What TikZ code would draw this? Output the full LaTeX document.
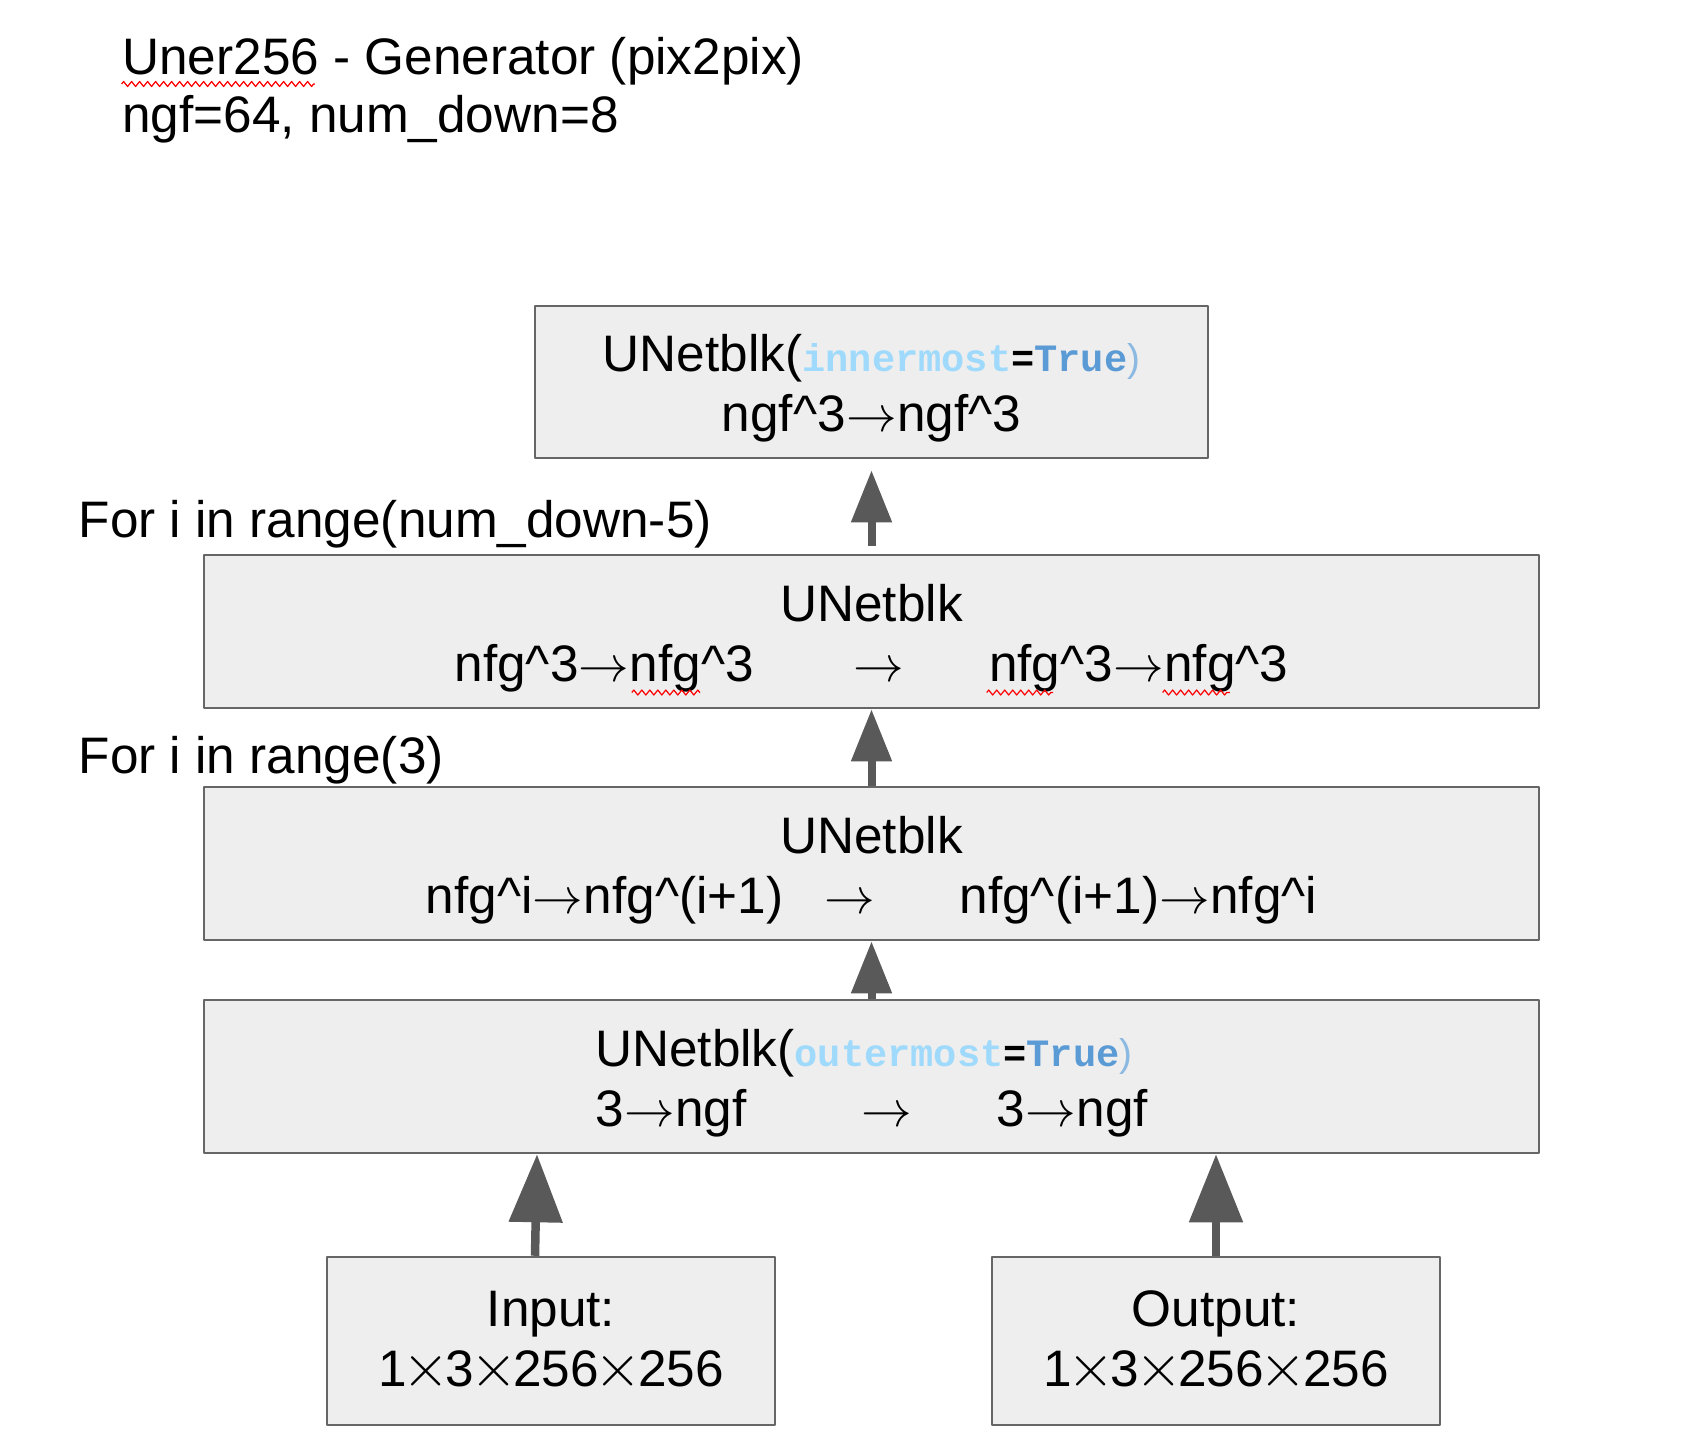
\documentclass[tikz,border=0pt]{standalone}
\usepackage{fontspec}
\setmainfont{Liberation Sans}
\setmonofont{Liberation Mono}
\usetikzlibrary{arrows.meta,decorations.pathmorphing}
\definecolor{boxfill}{HTML}{EEEEEE}
\definecolor{boxline}{HTML}{666666}
\definecolor{arrowgray}{HTML}{595959}
\definecolor{kwlight}{HTML}{9FDAFC}
\definecolor{kwdark}{HTML}{5B9BD5}
\newcommand\kwname[1]{{\ttfamily\bfseries\fontsize{11}{13}\selectfont\color{kwlight}#1}}
\newcommand\kwval[1]{{\ttfamily\bfseries\fontsize{11}{13}\selectfont\color{kwdark}#1}}
\newcommand\kweq{{\ttfamily\bfseries\fontsize{11}{13}\selectfont=}}
\newcommand\kwclose{{\color{kwdark!70}\fontsize{11}{13}\selectfont)}}
\newcommand\crt{\textasciicircum}
\newcommand\arr{\makebox[\fontcharwd\font`→][c]{$\rightarrow$}}
\newcommand\tms{\makebox[0.76em][c]{\scalebox{1.2}{$\times$}}}
\newcommand\tstrut{\rule{0pt}{5mm}}
\begin{document}
\begin{tikzpicture}[x=0.1mm, y=-0.1mm, line join=round, font=\fontsize{14.6}{17}\selectfont]
	\tikzset{blk/.style={draw=boxline, fill=boxfill, line width=0.25mm, align=center, inner sep=0pt, minimum height=15.3mm},
		txt/.style={anchor=base west, inner sep=0pt},
		up/.style={-{Triangle[width=3.9mm,length=5.2mm]}, draw=arrowgray, line width=0.8mm},
		bigup/.style={-{Triangle[width=5.2mm,length=6.8mm]}, draw=arrowgray, line width=0.85mm},
		squig/.style={draw=red, line width=0.12mm, decorate, decoration={zigzag, amplitude=0.25mm, segment length=0.8mm}}}
	\useasboundingbox (0,0) rectangle (1702,1447);
	
	% title
	\node[txt] (T1) at (121.6,74) {Uner256 - Generator (pix2pix)};
	\node[txt] (T2) at (121.6,132) {ngf=64, num\_down=8};
	
	% blocks
	\node[blk, minimum width=67.3mm, minimum height=15.2mm] (Inner) at (871.5,382)
		{\tstrut UNetblk(\kwname{innermost}\kweq\kwval{True}\kwclose\\ngf\crt3\arr ngf\crt3};
	\node[blk, minimum width=133.5mm] (B2) at (871.5,631.5)
		{\tstrut UNetblk\\nfg\crt3\arr nfg\crt3\hspace{9.9mm}\arr\hspace{8.5mm}nfg\crt3\arr nfg\crt3};
	\node[blk, minimum width=133.5mm] (B3) at (871.5,863.5)
		{\tstrut UNetblk\\nfg\crt i\arr nfg\crt(i+1)\hspace{4.1mm}\arr\hspace{8.4mm}nfg\crt(i+1)\arr nfg\crt i};
	\node[blk, minimum width=133.5mm, align=left] (B4) at (871.5,1076.5)
		{\tstrut UNetblk(\kwname{outermost}\kweq\kwval{True}\kwclose\\3\arr ngf\hspace{11.5mm}\arr\hspace{8.4mm}3\arr ngf};
	\node[blk, minimum width=44.8mm, minimum height=16.8mm] (In) at (551,1341) {Input:\\1\tms3\tms256\tms256};
	\node[blk, minimum width=44.8mm, minimum height=16.8mm] (Out) at (1216,1341) {Output:\\1\tms3\tms256\tms256};
	
	% loop labels
	\node[txt] (L1) at (78,537) {For i in range(num\_down-5)};
	\node[txt] (L2) at (78,773) {For i in range(3)};
	
	% arrows
	\foreach \x/\y/\s/\t in {B2/Inner/0.8mm/1.1mm, B3/B2/0mm/0mm, B4/B3/0mm/0mm}{
		\draw[up, shorten <=\s, shorten >=\t] (\x.north) -- (\y.south);	}
	\draw[bigup] ([xshift=-1.6mm]In.north) -- ([xshift=-1.4mm]In.north |- B4.south);
	\draw[bigup] (Out.north) -- (Out.north |- B4.south);
	
	% spell-check marks
	\path[squig] (121.6,84) -- (314.8,84);
	\foreach \a/\b in {631.8/700.2, 986.7/1053, 1162.6/1229.9}{
		\path[squig] (\a,692.5) -- (\b,692.5);	}
\end{tikzpicture}
\end{document}
